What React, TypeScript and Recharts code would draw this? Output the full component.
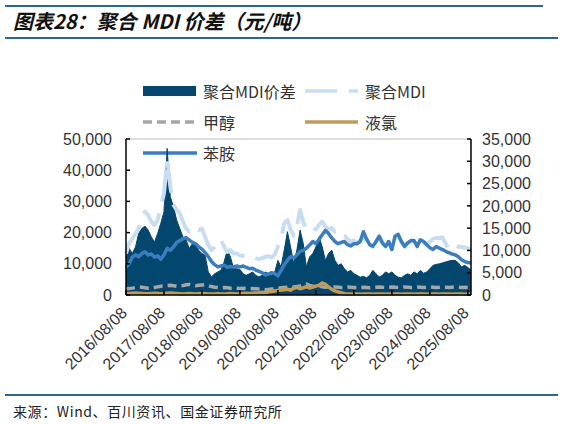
import { ComposedChart, Area, Line, XAxis, YAxis, ReferenceLine } from 'recharts';

// monthly samples, 2016/08 .. 2025/09
const months = [
  '2016/08', '2016/09', '2016/10', '2016/11', '2016/12',
  '2017/01', '2017/02', '2017/03', '2017/04', '2017/05', '2017/06', '2017/07', '2017/08', '2017/09', '2017/10', '2017/11', '2017/12',
  '2018/01', '2018/02', '2018/03', '2018/04', '2018/05', '2018/06', '2018/07', '2018/08', '2018/09', '2018/10', '2018/11', '2018/12',
  '2019/01', '2019/02', '2019/03', '2019/04', '2019/05', '2019/06', '2019/07', '2019/08', '2019/09', '2019/10', '2019/11', '2019/12',
  '2020/01', '2020/02', '2020/03', '2020/04', '2020/05', '2020/06', '2020/07', '2020/08', '2020/09', '2020/10', '2020/11', '2020/12',
  '2021/01', '2021/02', '2021/03', '2021/04', '2021/05', '2021/06', '2021/07', '2021/08', '2021/09', '2021/10', '2021/11', '2021/12',
  '2022/01', '2022/02', '2022/03', '2022/04', '2022/05', '2022/06', '2022/07', '2022/08', '2022/09', '2022/10', '2022/11', '2022/12',
  '2023/01', '2023/02', '2023/03', '2023/04', '2023/05', '2023/06', '2023/07', '2023/08', '2023/09', '2023/10', '2023/11', '2023/12',
  '2024/01', '2024/02', '2024/03', '2024/04', '2024/05', '2024/06', '2024/07', '2024/08', '2024/09', '2024/10', '2024/11', '2024/12',
  '2025/01', '2025/02', '2025/03', '2025/04', '2025/05', '2025/06', '2025/07', '2025/08', '2025/09',
];

// 聚合MDI价差 (left axis)
const spread = [
  12000, 15000, 13300, 15400, 19700, 21300, 22100, 20800, 18600, 17000, 19700, 23000,
  26700, 47000, 31500, 28300, 24000, 21300, 18600, 17600, 14900, 16500, 16000, 14300,
  13300, 12700, 7400, 5800, 6800, 7400, 7900, 10600, 14400, 12200, 8400, 8400,
  8200, 6800, 6300, 6800, 7400, 6300, 5800, 6300, 7400, 6800, 6300, 7400,
  11100, 9000, 14400, 20300, 15400, 10000, 14400, 20800, 16500, 9000, 12200, 13300,
  15400, 18600, 15400, 11100, 13300, 14400, 11100, 9500, 10000, 8400, 7400, 7900,
  6800, 6300, 5700, 6000, 5500, 6300, 7900, 6800, 5800, 6300, 7400, 6800,
  7400, 6300, 5700, 5500, 6300, 6800, 6300, 7400, 6800, 7900, 7000, 7400,
  8400, 9500, 9800, 10000, 10300, 10600, 10900, 11100, 11100, 10300, 9000, 9500,
  8800, 8000,
];

// 聚合MDI (left axis)
const mdi = [
  13300, 16500, 18100, 19700, 21300, 25100, 26700, 25600, 23500, 22400, 24000, 28300,
  32600, 43400, 34800, 28900, 27300, 26200, 23500, 21300, 20300, 21300, 21900, 20800,
  21300, 18600, 16000, 14400, 15400, 17600, 17600, 15400, 13800, 14400, 13300, 13300,
  12700, 12500, 12200, 12000, 12500, 11800, 11500, 11800, 12200, 12500, 12000, 13000,
  15500, 18000, 23000, 24000, 21000, 19000, 22000, 27300, 23500, 21000, 20500, 21500,
  21000, 22500, 23500, 22000, 21000, 21500, 20300, 21000, 19500, 19000, 18000, 17000,
  17500, 16500, 17600, 18500, 17500, 16000, 15500, 17000, 18500, 16500, 15500, 17000,
  14800, 18500, 19000, 17000, 15500, 16500, 17200, 17200, 15600, 17500, 17000, 16500,
  17000, 18000, 18300, 18200, 18500, 16500, 14500, 15500, 15800, 15500, 15400, 15200,
  15000, 14500,
];

// 甲醇 (left axis)
const methanol = [
  2000, 2100, 2200, 2400, 2600, 2500, 2300, 2200, 2300, 2400, 2600, 2800,
  2900, 3000, 3100, 3000, 2800, 2900, 3000, 3300, 3400, 3200, 3000, 3100,
  3200, 3300, 3000, 2700, 2500, 2400, 2300, 2400, 2300, 2200, 2300, 2200,
  2100, 2200, 2100, 2000, 2100, 2000, 1900, 1800, 1700, 1800, 1900, 2000,
  2100, 2300, 2400, 2500, 2400, 2600, 2700, 2900, 3200, 3500, 3100, 2800,
  2700, 2800, 2600, 2500, 2600, 2700, 2600, 2500, 2400, 2500, 2600, 2500,
  2400, 2300, 2400, 2500, 2400, 2300, 2400, 2500, 2600, 2500, 2400, 2500,
  2600, 2500, 2400, 2500, 2600, 2500, 2400, 2500, 2600, 2500, 2400, 2500,
  2600, 2500, 2400, 2500, 2600, 2500, 2400, 2500, 2600, 2500, 2400, 2500,
  2400, 2300,
];

// 液氯 (right axis)
const chlorine = [
  300, 350, 400, 450, 400, 350, 300, 300, 350, 400, 350, 300,
  350, 400, 450, 400, 350, 300, 250, 300, 350, 300, 250, 300,
  350, 300, 250, 200, 250, 300, 250, 200, 300, 350, 300, 250,
  300, 350, 400, 350, 400, 450, 500, 600, 500, 700, 800, 900,
  1000, 1100, 1200, 1300, 1100, 1500, 1700, 1400, 1600, 1900, 1600, 1800,
  2000, 2200, 2700, 2400, 1800, 1300, 900, 700, 500, 300, 250, 200,
  250, 200, 150, 200, 250, 200, 150, 200, 250, 200, 150, 200,
  200, 250, 200, 150, 200, 250, 200, 150, 200, 250, 200, 150,
  200, 250, 200, 150, 200, 250, 200, 150, 200, 250, 200, 150,
  200, 250,
];

// 苯胺 (right axis)
const aniline = [
  6200, 7000, 8500, 9000, 8600, 9300, 9700, 9000, 9200, 8500, 8800, 8000,
  9000, 10500, 10000, 10800, 11800, 12200, 12600, 12900, 12300, 11800, 11500, 10800,
  10300, 9500, 8600, 7500, 6800, 6300, 6500, 6700, 6200, 6400, 6300, 6500,
  6300, 6500, 6200, 5900, 6000, 5600, 5300, 5000, 4500, 4700, 5000, 4800,
  4300, 5500, 6800, 7800, 8600, 8300, 9000, 9800, 10000, 10500, 11200, 12000,
  11500, 12500, 13500, 14500, 13800, 12800, 12000, 11500, 11800, 12000, 11300, 11000,
  11500, 11500, 12000, 14200, 12600, 11300, 10900, 12000, 13200, 11700, 10900, 12000,
  10200, 13200, 13600, 12000, 10900, 11700, 12200, 12200, 10900, 12400, 12000, 11300,
  10600, 10200, 10900, 10500, 10200, 9800, 9500, 9200, 9000, 8600, 7900, 7500,
  7300, 7150,
];

const yearTicks = [0, 12, 24, 36, 48, 60, 72, 84, 96, 108];
const dateLabels = [
  '2016/08/08', '2017/08/08', '2018/08/08', '2019/08/08', '2020/08/08',
  '2021/08/08', '2022/08/08', '2023/08/08', '2024/08/08', '2025/08/08',
];
const leftTicks = [0, 10000, 20000, 30000, 40000, 50000];
const rightTicks = [0, 5000, 10000, 15000, 20000, 25000, 30000, 35000];

const data = months.map((month, i) => ({
  i,
  month,
  spread: spread[i],
  mdi: mdi[i],
  methanol: methanol[i],
  chlorine: chlorine[i],
  aniline: aniline[i],
}));

const NAVY = '#03476e';
const PALE = '#c8ddf1';
const GREY = '#a6a6a6';
const GOLD = '#bf9b5a';
const MID = '#3b7ec0';
const RULE = '#2b6796';
const NUM_FONT = '"Liberation Sans", Arial, sans-serif';
const CJK_FONT = '"Noto Sans CJK SC", sans-serif';

const fmt = (v: number) => v.toLocaleString('en-US');

function DateTick({ x, y, payload }: any) {
  const label = dateLabels[yearTicks.indexOf(payload.value)];
  const ax = x + 2;
  return (
    <text
      x={ax}
      y={y}
      transform={`rotate(-45 ${ax} ${y})`}
      textAnchor="end"
      fontSize={16}
      fontFamily={NUM_FONT}
      fill="#333"
    >
      {label}
    </text>
  );
}

function Swatch({ kind }: { kind: string }) {
  return (
    <svg width={54} height={14} style={{ display: 'block' }}>
      {kind === 'area' && <rect x={0} y={2} width={53} height={10} fill={NAVY} />}
      {kind === 'pale' && (
        <line x1={0} y1={7} x2={53} y2={7} stroke={PALE} strokeWidth={3.5} strokeDasharray="32 12" />
      )}
      {kind === 'grey' && (
        <line x1={0} y1={7} x2={53} y2={7} stroke={GREY} strokeWidth={3.5} strokeDasharray="9 5" />
      )}
      {kind === 'gold' && <line x1={0} y1={7} x2={53} y2={7} stroke={GOLD} strokeWidth={3.5} />}
      {kind === 'mid' && (
        <line x1={0} y1={7} x2={53} y2={7} stroke={MID} strokeWidth={3.5} strokeLinecap="round" />
      )}
    </svg>
  );
}

const legendItems = [
  { name: '聚合MDI价差', kind: 'area', left: 143, top: 91 },
  { name: '聚合MDI', kind: 'pale', left: 305, top: 91 },
  { name: '甲醇', kind: 'grey', left: 143, top: 122 },
  { name: '液氯', kind: 'gold', left: 305, top: 122 },
  { name: '苯胺', kind: 'mid', left: 143, top: 153 },
];

export default function App() {
  return (
    <div
      style={{
        position: 'absolute',
        left: 0,
        top: 0,
        width: 564,
        height: 424,
        background: '#fff',
        overflow: 'hidden',
        fontFamily: CJK_FONT,
      }}
    >
      <div style={{ position: 'absolute', left: 5, top: 5, width: 538, height: 2, background: RULE }} />
      <div
        style={{
          position: 'absolute',
          left: 13,
          top: 8,
          fontSize: 20,
          lineHeight: '26px',
          fontWeight: 700,
          fontStyle: 'italic',
          color: '#111',
          whiteSpace: 'nowrap',
        }}
      >
        图表28：聚合 MDI 价差（元/吨）
      </div>
      <div style={{ position: 'absolute', left: 5, top: 37, width: 553, height: 2, background: RULE }} />

      {legendItems.map((it) => (
        <div
          key={it.name}
          style={{
            position: 'absolute',
            left: it.left,
            top: it.top - 10,
            height: 20,
            display: 'flex',
            alignItems: 'center',
            whiteSpace: 'nowrap',
          }}
        >
          <Swatch kind={it.kind} />
          <span style={{ marginLeft: 6, fontSize: 16, lineHeight: '20px', color: '#333' }}>{it.name}</span>
        </div>
      ))}

      <div style={{ position: 'absolute', left: 0, top: 0 }}>
        <ComposedChart width={564} height={424} data={data} margin={{ top: 139, right: 0, bottom: 69, left: 0 }}>
          <XAxis
            xAxisId="main"
            type="number"
            dataKey="i"
            domain={[0, 109]}
            ticks={yearTicks}
            interval={0}
            tick={<DateTick />}
            tickSize={-5}
            tickMargin={24}
            height={60}
            axisLine={{ stroke: '#000', strokeWidth: 1.5 }}
            tickLine={{ stroke: '#000', strokeWidth: 1.5 }}
          />
          <YAxis
            yAxisId="left"
            width={126}
            domain={[0, 50000]}
            ticks={leftTicks}
            interval={0}
            tickFormatter={fmt}
            tickSize={-4}
            tickMargin={18}
            axisLine={{ stroke: '#000', strokeWidth: 1.5 }}
            tickLine={{ stroke: '#000', strokeWidth: 1.5 }}
            tick={{ fontSize: 16, fill: '#333', fontFamily: NUM_FONT }}
          />
          <YAxis
            yAxisId="right"
            orientation="right"
            width={93}
            domain={[0, 35000]}
            ticks={rightTicks}
            interval={0}
            tickFormatter={fmt}
            tickSize={-4}
            tickMargin={15}
            axisLine={{ stroke: '#000', strokeWidth: 1.5 }}
            tickLine={{ stroke: '#000', strokeWidth: 1.5 }}
            tick={{ fontSize: 16, fill: '#333', fontFamily: NUM_FONT, textAnchor: 'start' }}
          />
          <ReferenceLine xAxisId="main" yAxisId="left" y={50000} stroke="#bfbfbf" strokeWidth={1} />
          <Area
            xAxisId="main"
            yAxisId="left"
            type="linear"
            dataKey="spread"
            stroke={NAVY}
            strokeWidth={1}
            fill={NAVY}
            fillOpacity={1}
            isAnimationActive={false}
          />
          <Line
            xAxisId="main"
            yAxisId="left"
            type="linear"
            dataKey="mdi"
            stroke={PALE}
            strokeWidth={4}
            strokeDasharray="32 12"
            strokeLinejoin="round"
            dot={false}
            isAnimationActive={false}
          />
          <Line
            xAxisId="main"
            yAxisId="left"
            type="linear"
            dataKey="methanol"
            stroke={GREY}
            strokeWidth={3.5}
            strokeDasharray="9 5"
            dot={false}
            isAnimationActive={false}
          />
          <Line
            xAxisId="main"
            yAxisId="right"
            type="linear"
            dataKey="chlorine"
            stroke={GOLD}
            strokeWidth={3.5}
            dot={false}
            isAnimationActive={false}
          />
          <Line
            xAxisId="main"
            yAxisId="right"
            type="linear"
            dataKey="aniline"
            stroke={MID}
            strokeWidth={3.5}
            strokeLinejoin="round"
            dot={false}
            isAnimationActive={false}
          />
        </ComposedChart>
      </div>

      <div style={{ position: 'absolute', left: 5, top: 394, width: 553, height: 2, background: RULE }} />
      <div
        style={{
          position: 'absolute',
          left: 13,
          top: 401,
          fontSize: 14,
          lineHeight: '20px',
          letterSpacing: 0.6,
          color: '#222',
          whiteSpace: 'nowrap',
        }}
      >
        来源：Wind、百川资讯、国金证券研究所
      </div>
    </div>
  );
}
